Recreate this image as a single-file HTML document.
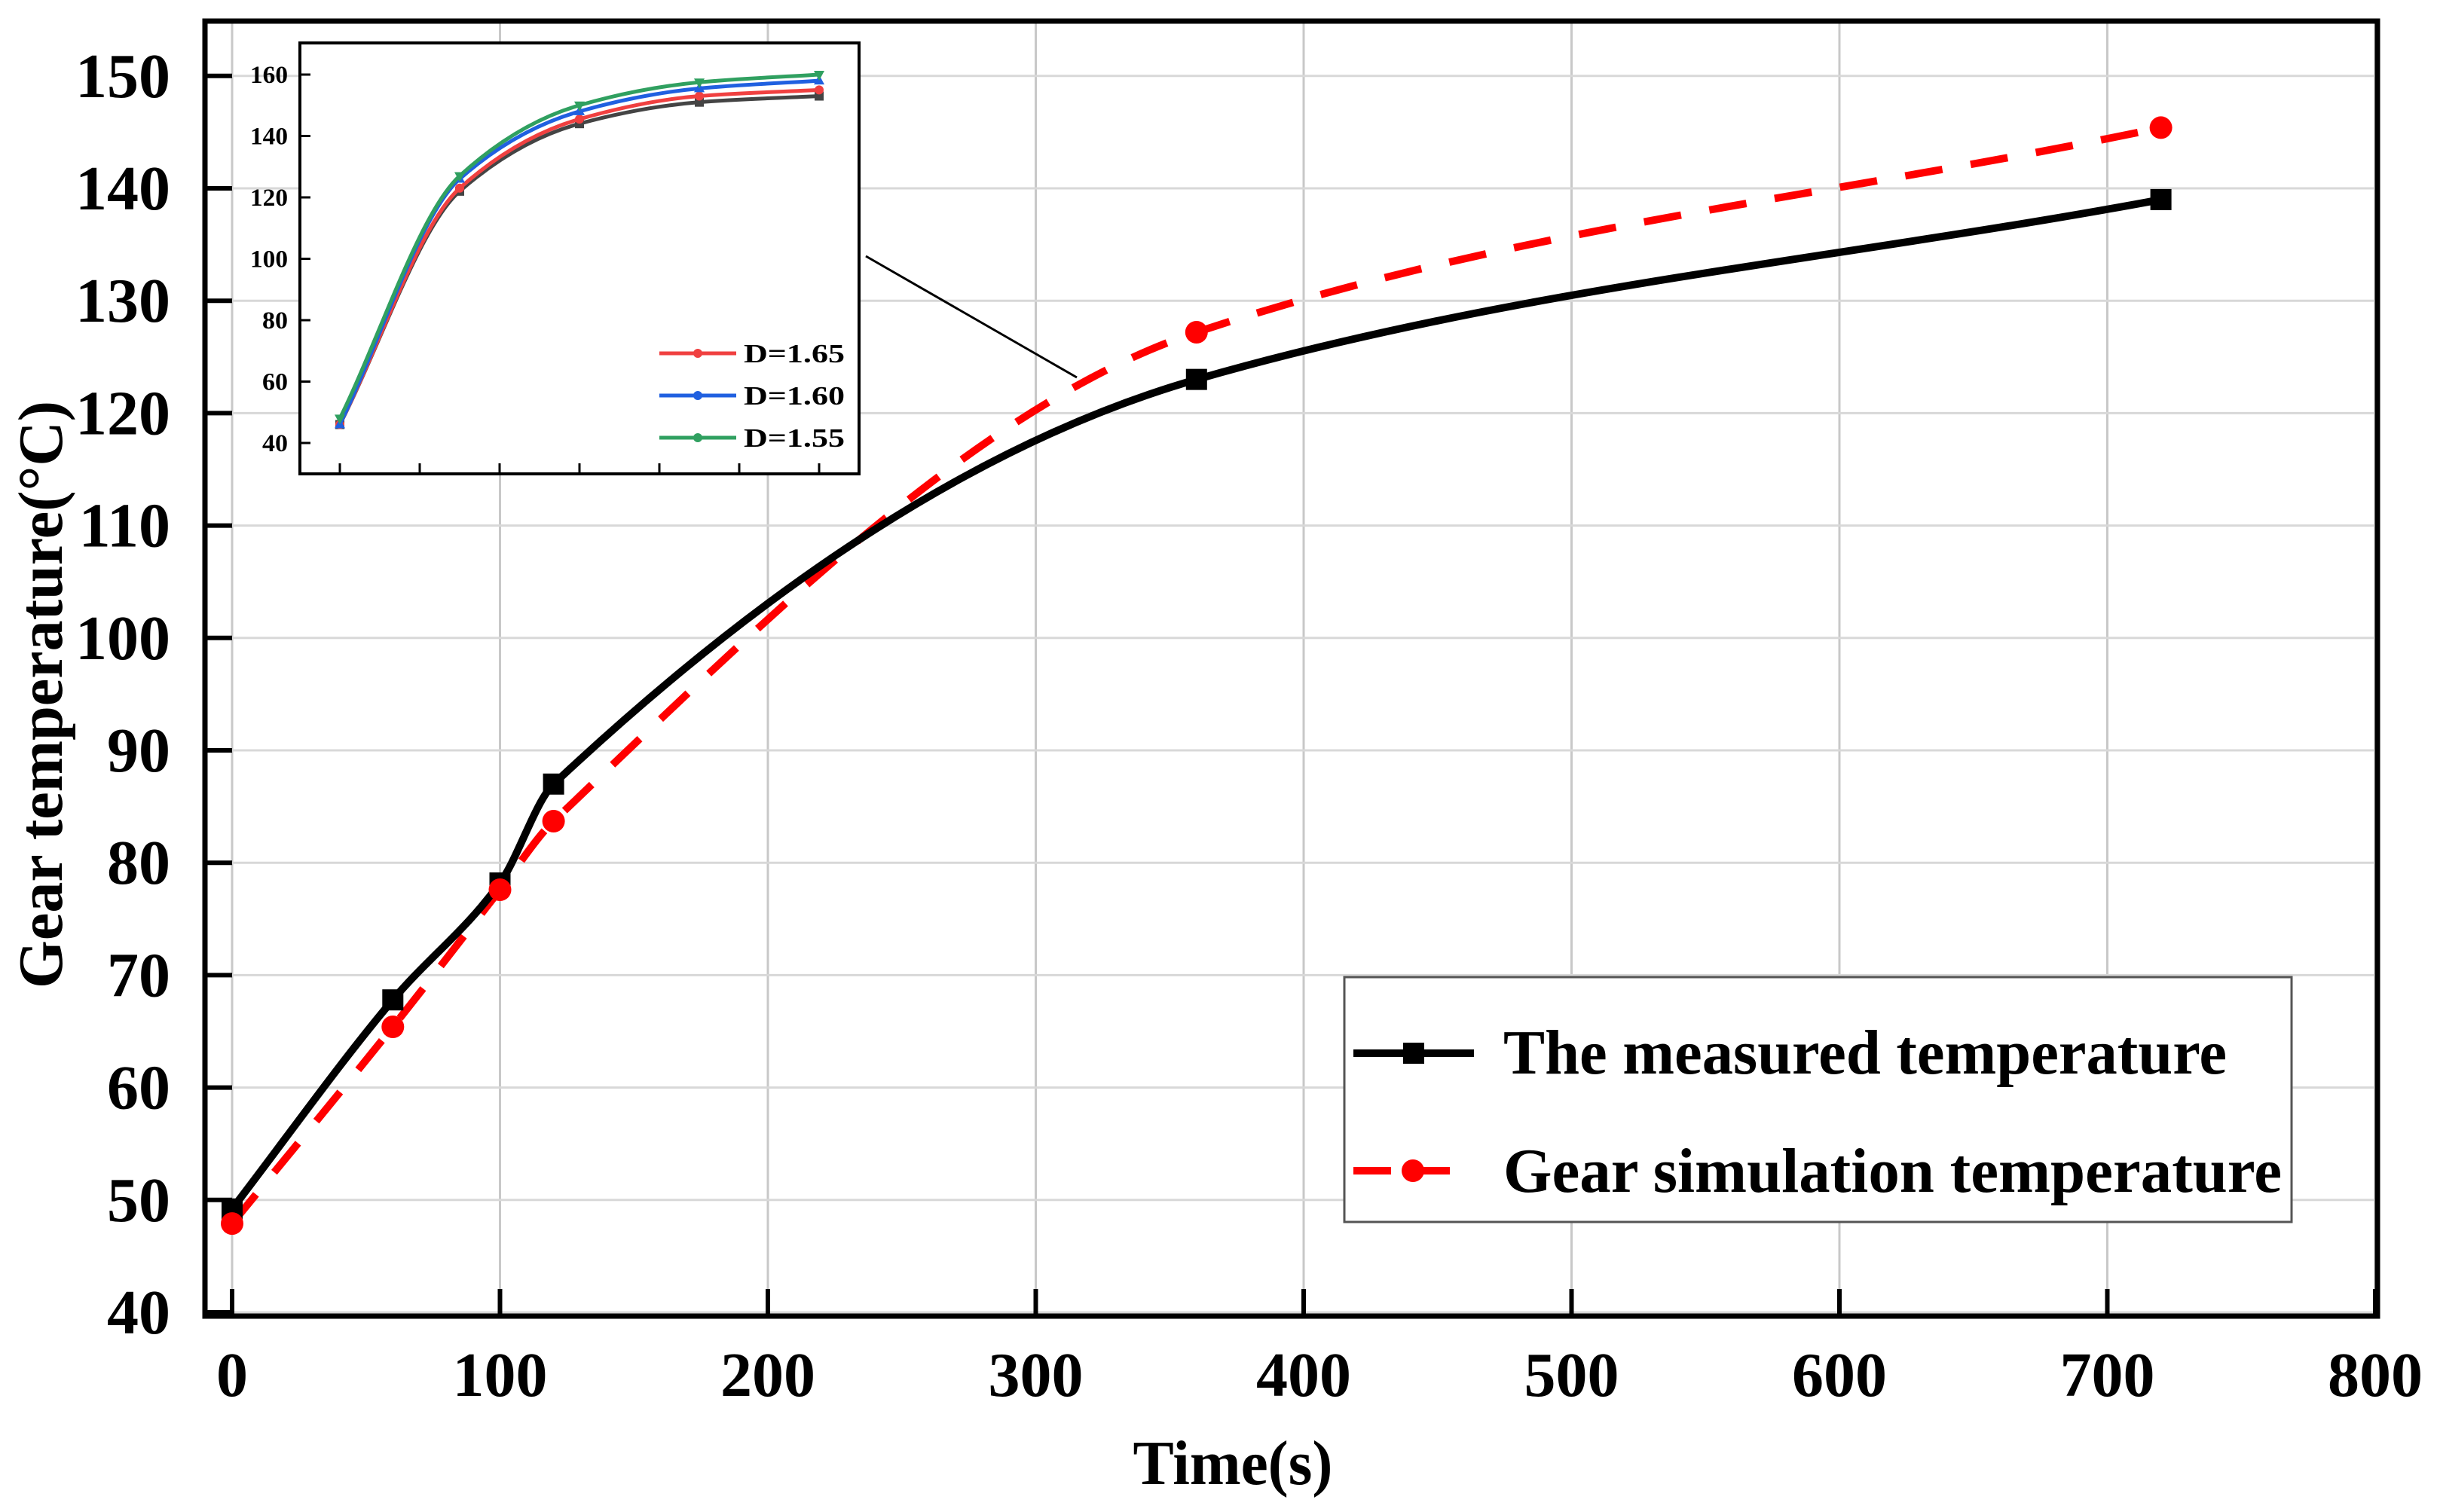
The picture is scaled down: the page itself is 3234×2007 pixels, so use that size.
<!DOCTYPE html>
<html><head><meta charset="utf-8"><style>
html,body{margin:0;padding:0;background:#fff;}
svg{display:block;}
text{font-family:"Liberation Serif",serif;font-weight:bold;fill:#000;}
</style></head><body>
<svg id="chart" width="3234" height="2007" viewBox="0 0 3234 2007" xmlns="http://www.w3.org/2000/svg">
<rect width="3234" height="2007" fill="#fff"/>
<g id="grid"></g>
<g id="series"></g>
<g id="frame"></g>
<g id="ticks"></g>
<g id="inset"></g>
<g id="legend"></g>
<text x="1636" y="1970" font-size="84" text-anchor="middle" textLength="265" lengthAdjust="spacingAndGlyphs">Time(s)</text>
<text transform="translate(82,922) rotate(-90)" font-size="84" text-anchor="middle" textLength="780" lengthAdjust="spacingAndGlyphs">Gear temperature(°C)</text>
</svg>
<script>
const xTicks = [0,100,200,300,400,500,600,700,800];
const yTicks = [40,50,60,70,80,90,100,110,120,130,140,150];
const times = [0,60,100,120,360,720];
const measured = [49.2,67.8,78.2,87.0,123.0,139.0];
const simulated = [47.9,65.4,77.6,83.7,127.2,145.4];
const insetTicksY = [40,60,80,100,120,140,160];
const insetIdx = [0,1,2,3,4];
const insetBlack = [46,122,144,151,153];
const insetRed = [46,123,145.5,153,155];
const insetBlue = [46,126,148,155.5,158];
const insetGreen = [48,127,150,157.5,160];
const insetLabels = ['D=1.65','D=1.60','D=1.55'];

const NS='http://www.w3.org/2000/svg';
function mk(tag,attrs,parent){const e=document.createElementNS(NS,tag);for(const k in attrs)e.setAttribute(k,attrs[k]);parent.appendChild(e);return e;}
const L=272,R=3155,T=28,B=1747;
const X=v=>308+v*3.555;
const Y=v=>1742-(v-40)*14.92;
const grid=document.getElementById('grid'),frame=document.getElementById('frame'),ticks=document.getElementById('ticks'),series=document.getElementById('series');
xTicks.forEach(t=>{
  const g=mk('line',{x1:X(t),x2:X(t),y1:T,y2:B,stroke:'#c8c8c8','stroke-width':3},grid);
  
  
  const tk=mk('line',{x1:X(t),x2:X(t),y1:B,y2:B-36,stroke:'#000','stroke-width':6},ticks);
  
  
  const lb=mk('text',{x:X(t),y:1853,'font-size':84,'text-anchor':'middle'},ticks);
  
  
  lb.textContent=t;
});
yTicks.forEach(t=>{
  const g=mk('line',{x1:L,x2:R,y1:Y(t),y2:Y(t),stroke:'#d8d8d8','stroke-width':3},grid);
  
  
  const tk=mk('line',{x1:L,x2:L+36,y1:Y(t),y2:Y(t),stroke:'#000','stroke-width':6},ticks);
  
  
  const lb=mk('text',{x:226,y:Y(t)+28,'font-size':84,'text-anchor':'end'},ticks);
  
  
  lb.textContent=t;
});
const fr=mk('rect',{x:L,y:T,width:R-L,height:B-T,fill:'none',stroke:'#000','stroke-width':7},frame);



function monotone(pts){
  const n=pts.length,d=[],m=[];
  for(let i=0;i<n-1;i++)d.push((pts[i+1][1]-pts[i][1])/(pts[i+1][0]-pts[i][0]));
  m[0]=d[0];m[n-1]=d[n-2];
  for(let i=1;i<n-1;i++){
    if(d[i-1]*d[i]<=0)m[i]=0;
    else m[i]=2/(1/d[i-1]+1/d[i]);
  }
  let s='M'+pts[0][0]+','+pts[0][1];
  for(let i=0;i<n-1;i++){
    const h=(pts[i+1][0]-pts[i][0])/3;
    s+=' C'+(pts[i][0]+h)+','+(pts[i][1]+m[i]*h)+' '+(pts[i+1][0]-h)+','+(pts[i+1][1]-m[i+1]*h)+' '+pts[i+1][0]+','+pts[i+1][1];
  }
  return s;
}
const smooth=monotone;
const simPts=times.map((t,i)=>[X(t),Y(simulated[i])]);
const mPts=times.map((t,i)=>[X(t),Y(measured[i])]);
const sl=mk('path',{d:monotone(simPts),fill:'none',stroke:'#ff0000','stroke-width':10,'stroke-dasharray':'50 38'},series);


const ml=mk('path',{d:monotone(mPts),fill:'none',stroke:'#000','stroke-width':10},series);


mPts.forEach(p=>{
  const m=mk('rect',{x:p[0]-14,y:p[1]-14,width:28,height:28,fill:'#000'},series);
  
  
});
simPts.forEach(p=>{
  const m=mk('circle',{cx:p[0],cy:p[1],r:15,fill:'#ff0000'},series);
  
  
});

const cn=mk('line',{x1:1149,y1:340,x2:1429,y2:501,stroke:'#000','stroke-width':3},series);



const ins=document.getElementById('inset');
const iL=398,iR=1140,iT=57,iB=629;
const IX=i=>451+i*159;
const IY=v=>588-(v-40)*4.075;
const ibg=mk('rect',{x:iL,y:iT,width:iR-iL,height:iB-iT,fill:'#fff',stroke:'#000','stroke-width':4},ins);


insetTicksY.forEach(t=>{
  const tk=mk('line',{x1:iL,x2:iL+14,y1:IY(t),y2:IY(t),stroke:'#000','stroke-width':3},ins);
  
  
  const lb=mk('text',{x:iL-16,y:IY(t)+11,'font-size':33,'text-anchor':'end',textLength:t>=100?50:34,lengthAdjust:'spacingAndGlyphs'},ins);
  
  
  lb.textContent=t;
});
for(let k=0;k<=6;k++){
  const tk=mk('line',{x1:451+k*106,x2:451+k*106,y1:iB,y2:iB-14,stroke:'#000','stroke-width':3},ins);
  
  
}
const iseries=[[insetBlack,'#444','square'],[insetRed,'#f04040','circle'],[insetBlue,'#2060e0','up'],[insetGreen,'#30a060','down']];
iseries.forEach(s=>{
  const pts=insetIdx.map((i,j)=>[IX(i),IY(s[0][j])]);
  const p=mk('path',{d:smooth(pts),fill:'none',stroke:s[1],'stroke-width':5},ins);
  
  
  pts.forEach(q=>{
    let m;
    if(s[2]==='square')m=mk('rect',{x:q[0]-6,y:q[1]-6,width:12,height:12,fill:s[1]},ins);
    else if(s[2]==='circle')m=mk('circle',{cx:q[0],cy:q[1],r:6,fill:s[1]},ins);
    else if(s[2]==='up')m=mk('path',{d:`M${q[0]},${q[1]-8} L${q[0]+7},${q[1]+5} L${q[0]-7},${q[1]+5}Z`,fill:s[1]},ins);
    else m=mk('path',{d:`M${q[0]},${q[1]+8} L${q[0]+7},${q[1]-5} L${q[0]-7},${q[1]-5}Z`,fill:s[1]},ins);
    
    
  });
});
const legCols=['#f04040','#2060e0','#30a060'];
insetLabels.forEach((lab,i)=>{
  const y=469+i*56;
  const ln=mk('line',{x1:875,x2:977,y1:y,y2:y,stroke:legCols[i],'stroke-width':5},ins);
  
  
  const mc=mk('circle',{cx:926,cy:y,r:6,fill:legCols[i]},ins);
  
  
  const tx=mk('text',{x:987,y:y+12,'font-size':35,textLength:134,lengthAdjust:'spacingAndGlyphs'},ins);
  
  
  tx.textContent=lab;
});

const leg=document.getElementById('legend');
const lb=mk('rect',{x:1784,y:1297,width:1257,height:325,fill:'#fff',stroke:'#555','stroke-width':3},leg);


const l1=mk('line',{x1:1796,x2:1956,y1:1398,y2:1398,stroke:'#000','stroke-width':10},leg);


const m1=mk('rect',{x:1862,y:1384,width:28,height:28,fill:'#000'},leg);


const l2=mk('line',{x1:1796,x2:1940,y1:1554,y2:1554,stroke:'#ff0000','stroke-width':10,'stroke-dasharray':'50 28'},leg);


const m2=mk('circle',{cx:1875,cy:1554,r:15,fill:'#ff0000'},leg);


const t1=mk('text',{x:1995,y:1425,'font-size':84,textLength:960,lengthAdjust:'spacingAndGlyphs'},leg);


t1.textContent='The measured temperature';
const t2=mk('text',{x:1995,y:1582,'font-size':84,textLength:1033,lengthAdjust:'spacingAndGlyphs'},leg);


t2.textContent='Gear simulation temperature';
</script>
</body></html>
